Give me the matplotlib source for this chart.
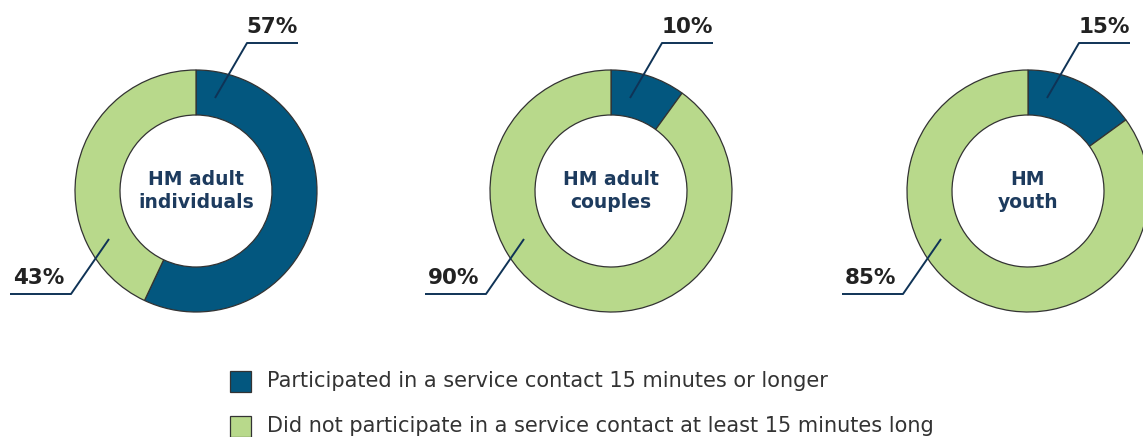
import matplotlib.pyplot as plt

# data
groups = ["HM adult\nindividuals", "HM adult\ncouples", "HM\nyouth"]
participated = [57, 10, 15]
not_participated = [43, 90, 85]
legend_labels = ["Participated in a service contact 15 minutes or longer",
                 "Did not participate in a service contact at least 15 minutes long"]

BLUE = "#03577f"
GREEN = "#b8d98b"
NAVY = "#0f3356"
TXT = "#222222"

W, H = 1143, 437
fig = plt.figure(figsize=(W / 100, H / 100), dpi=100)
ax = fig.add_axes([0, 0, 1, 1])

centers_x = [196, 611, 1028]
cy = H - 191
R = 121
ring = 45

for i, g in enumerate(groups):
    cx = centers_x[i]
    ax.pie([participated[i], not_participated[i]], colors=[BLUE, GREEN],
           startangle=90, counterclock=False, radius=R, center=(cx, cy),
           wedgeprops=dict(width=ring, edgecolor="#333333", linewidth=0.9))
    ax.text(cx, cy, g, ha="center", va="center", fontsize=13.5,
            fontweight="bold", color="#1d3b5e", linespacing=1.25)

    # leader for blue share (top)
    x0, y0 = cx + 19, cy + 93
    x1, y1 = cx + 51, cy + 148
    x2 = cx + 102
    ax.plot([x0, x1, x2], [y0, y1, y1], color=NAVY, lw=1.4,
            solid_capstyle="butt", clip_on=False)
    ax.text(x2, y1 + 6, f"{participated[i]}%", ha="right", va="bottom",
            fontsize=15.5, fontweight="heavy", color=TXT)

    # leader for green share (lower left)
    x0, y0 = cx - 87, cy - 48
    x1, y1 = cx - 125, cy - 103
    x2 = cx - 186
    ax.plot([x0, x1, x2], [y0, y1, y1], color=NAVY, lw=1.4,
            solid_capstyle="butt", clip_on=False)
    ax.text(x2 + 3, y1 + 6, f"{not_participated[i]}%", ha="left", va="bottom",
            fontsize=15.5, fontweight="heavy", color=TXT)

# legend
for j, (lab, col) in enumerate(zip(legend_labels, [BLUE, GREEN])):
    ly = H - (381 + 45 * j)
    ax.add_patch(plt.Rectangle((230, ly - 10.5), 21, 21, facecolor=col,
                               edgecolor="#333333", linewidth=0.9))
    ax.text(267, ly, lab, ha="left", va="center", fontsize=15, color="#333333")

ax.set_xlim(0, W)
ax.set_ylim(0, H)
ax.set_aspect("equal")
ax.axis("off")

fig.savefig("out.png", dpi=100, facecolor="white")
